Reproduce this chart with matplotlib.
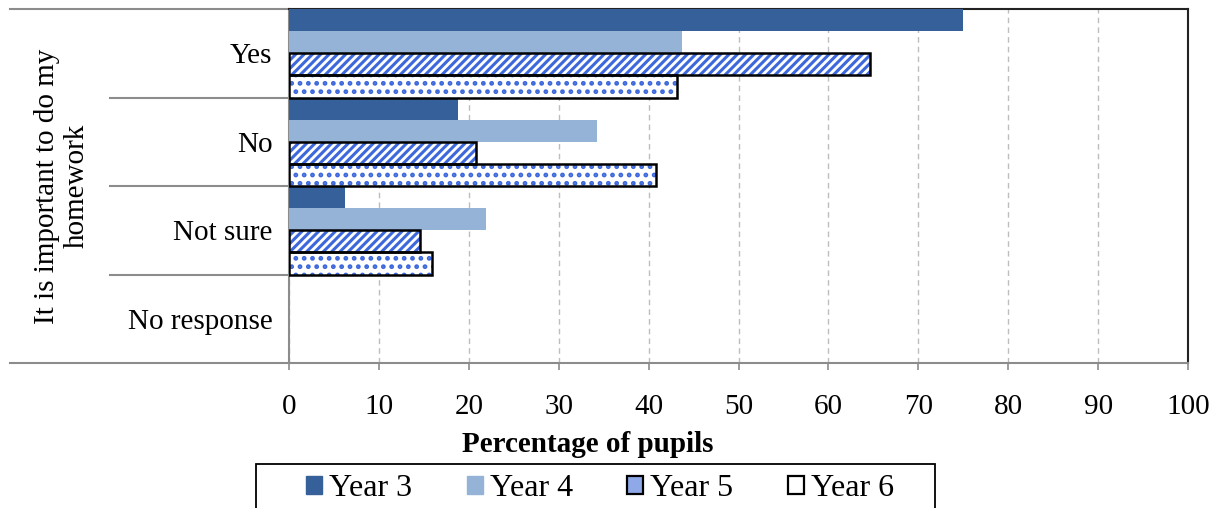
import matplotlib
matplotlib.use("Agg")
import matplotlib.pyplot as plt
from matplotlib.patches import Rectangle, Patch
from matplotlib.lines import Line2D
import numpy as np

# Survey data: "It is important to do my homework"
categories = ["Yes", "No", "Not sure", "No response"]
series = ["Year 3", "Year 4", "Year 5", "Year 6"]
year3 = [75.0, 18.8, 6.2, 0.0]
year4 = [43.7, 34.3, 21.9, 0.0]
year5 = [64.6, 20.8, 14.6, 0.0]
year6 = [43.2, 40.8, 15.9, 0.0]
x_ticks = [0, 10, 20, 30, 40, 50, 60, 70, 80, 90, 100]

plt.rcParams["font.family"] = ["Liberation Serif", "DejaVu Serif"]
plt.rcParams["hatch.linewidth"] = 2.2

W, H = 1220, 508
fig = plt.figure(figsize=(W / 100, H / 100), dpi=100)
L, R, T, B = 289, 1188, 9, 363
ax = fig.add_axes([L / W, 1 - B / H, (R - L) / W, (B - T) / H])

dark = "#36609A"
light = "#95B3D7"
hblue = "#3D68DC"
grey = "#8C8C8C"

y = np.arange(len(categories))
h = 0.25
offs = [-0.375, -0.125, 0.125, 0.375]

ax.barh(y + offs[0], year3, height=h, color=dark, zorder=3)
ax.barh(y + offs[1], year4, height=h, color=light, zorder=3)
# hatched series: fill+hatch first, then a black outline on top
ax.barh(y + offs[2], year5, height=h, facecolor="white", edgecolor=hblue,
        hatch="////", linewidth=0, zorder=3)
ax.barh(y + offs[2], [v if v > 0 else np.nan for v in year5], height=h,
        fill=False, edgecolor="black", linewidth=1.8, zorder=4)
ax.barh(y + offs[3], year6, height=h, facecolor="white", edgecolor=hblue,
        hatch="..", linewidth=0, zorder=3)
ax.barh(y + offs[3], [v if v > 0 else np.nan for v in year6], height=h,
        fill=False, edgecolor="black", linewidth=1.8, zorder=4)

ax.set_xlim(0, 100)
ax.set_ylim(len(categories) - 0.5, -0.5)
ax.set_xticks(x_ticks)
ax.set_xticklabels([str(t) for t in x_ticks], fontsize=21)
ax.set_yticks(y)
ax.set_yticklabels(categories, fontsize=21)
ax.tick_params(axis="y", length=0, pad=12)
ax.tick_params(axis="x", length=5, color=grey, width=1.2, pad=17)

ax.xaxis.grid(True, linestyle=(0, (4, 3)), color="#BDBDBD", linewidth=1.0, zorder=0)
ax.set_axisbelow(True)

for s in ["left", "bottom"]:
    ax.spines[s].set_color(grey)
    ax.spines[s].set_linewidth(1.5)
for s in ["top", "right"]:
    ax.spines[s].set_color("#222222")
    ax.spines[s].set_linewidth(1.5)

ax.set_xlabel("Percentage of pupils", fontsize=21, fontweight="bold", labelpad=8,
              x=(588 - L) / (R - L))

# category separators of the two-level axis
x_outer = (10 - L) / (R - L)
x_inner = (110 - L) / (R - L)
for b in [0.5, 1.5, 2.5]:
    ax.add_line(Line2D([x_inner, 0], [b, b], transform=ax.get_yaxis_transform(),
                       color=grey, linewidth=1.5, clip_on=False))
for b in [-0.5, len(categories) - 0.5]:
    ax.add_line(Line2D([x_outer, 0], [b, b], transform=ax.get_yaxis_transform(),
                       color=grey, linewidth=1.5, clip_on=False))

fig.text(62 / W, 1 - 186 / H, "It is important to do my\nhomework", rotation=90,
         ha="center", va="center", fontsize=21, linespacing=1.2)

# legend
fig.patches.append(Rectangle((256 / W, 1 - 530 / H), (935 - 256) / W, (530 - 464) / H,
                             transform=fig.transFigure, fill=False,
                             edgecolor="black", linewidth=1.3))
handles = [
    Patch(facecolor=dark, edgecolor=dark),
    Patch(facecolor=light, edgecolor=light),
    Patch(facecolor="#8EA8E8", edgecolor="black", linewidth=1.6),
    Patch(facecolor="white", edgecolor="black", linewidth=1.6),
]
fig.legend(handles, series, loc="center", bbox_to_anchor=(600 / W, 1 - 489 / H),
           ncol=4, frameon=False, fontsize=23, handlelength=0.5, handleheight=0.5,
           handletextpad=0.22, columnspacing=1.7, borderpad=0, borderaxespad=0)

fig.savefig("out.png", dpi=100)
